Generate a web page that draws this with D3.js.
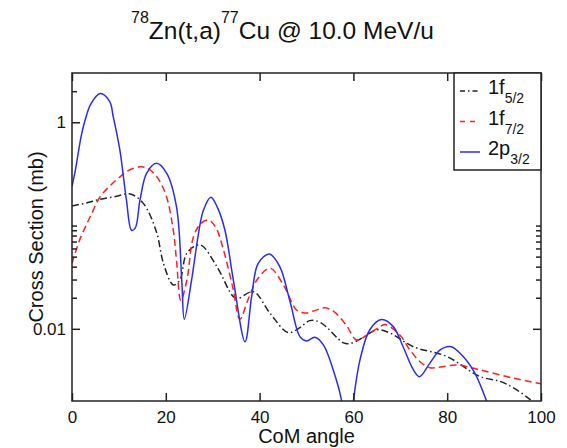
<!DOCTYPE html>
<html>
<head>
<meta charset="utf-8">
<script src="https://cdn.jsdelivr.net/npm/d3@7/dist/d3.min.js"></script>
<style>
  html, body { margin: 0; padding: 0; background: #fff; }
  svg { display: block; font-family: "Liberation Sans", Arial, Helvetica, sans-serif; }
</style>
</head>
<body>
<svg id="chart" width="567" height="448"></svg>
<script>
// Transfer cross sections vs centre-of-mass angle
const angles_f52 = [0, 3, 6, 9, 12.4, 15.2, 18, 19.5, 21.6, 23, 24.5, 27.3, 30.9, 34.4, 35.5, 38.7, 42.2, 46.1, 48.5, 50.7, 53, 57.9, 59.3, 62, 65, 67.8, 72.8, 79.9, 87, 91.3, 94, 97.7, 100];
const sigma_f52  = [0.155, 0.165, 0.18, 0.19, 0.202, 0.164, 0.087, 0.043, 0.0266, 0.0297, 0.054, 0.065, 0.04, 0.0205, 0.0198, 0.0229, 0.0142, 0.0092, 0.0102, 0.012, 0.0115, 0.0073, 0.0072, 0.0082, 0.0098, 0.0091, 0.0067, 0.0054, 0.00345, 0.0031, 0.0027, 0.00206, 0.0016];

const angles_f72 = [0, 1, 2, 3, 4, 6, 8, 10, 12, 14.5, 16, 18, 20, 21.6, 22.3, 23.2, 24.5, 25.9, 27.5, 29.1, 30.7, 32.3, 34.3, 35.8, 37.5, 39.5, 42.2, 45, 47.9, 49.7, 51.8, 53.9, 56, 58.5, 60.7, 63, 65.7, 66.8, 69.9, 72, 74.2, 76.3, 79, 82, 87, 94.1, 100];
const sigma_f72  = [0.043, 0.06, 0.08, 0.1, 0.125, 0.19, 0.24, 0.29, 0.34, 0.37, 0.36, 0.3, 0.2, 0.09, 0.045, 0.0188, 0.0297, 0.078, 0.105, 0.113, 0.095, 0.058, 0.025, 0.0124, 0.019, 0.03, 0.0386, 0.027, 0.0152, 0.0142, 0.015, 0.016, 0.0145, 0.0108, 0.0078, 0.0088, 0.0105, 0.011, 0.0087, 0.0063, 0.0048, 0.0042, 0.0043, 0.00447, 0.004, 0.00333, 0.00293];

const angles_p32 = [0, 0.7, 2, 2.8, 4, 6, 8, 8.8, 10.2, 11.6, 12.7, 13.5, 14.5, 15.9, 18, 20.2, 22.3, 23.4, 23.95, 25.5, 26.9, 28, 29.6, 31, 32.6, 34.4, 36.9, 38.3, 39.7, 42.1, 44.3, 46.5, 48.6, 50, 51.8, 53.6, 55.7, 57.5, 58.8, 60, 61.4, 63.5, 66, 68.5, 70.6, 72.8, 74.1, 76.3, 78.5, 80.7, 83.4, 85.9, 88.4, 90];
const sigma_p32  = [0.24, 0.34, 0.75, 1.05, 1.5, 1.9, 1.6, 1.13, 0.54, 0.177, 0.09, 0.095, 0.177, 0.32, 0.4, 0.32, 0.15, 0.0297, 0.0124, 0.0297, 0.08, 0.14, 0.188, 0.15, 0.0906, 0.0297, 0.0075, 0.0205, 0.043, 0.053, 0.04, 0.0183, 0.0084, 0.00764, 0.0083, 0.007, 0.004, 0.002, 0.0006, 0.002, 0.005, 0.0098, 0.0123, 0.0105, 0.0067, 0.004, 0.00344, 0.00465, 0.00625, 0.00673, 0.0054, 0.00372, 0.002, 0.0013];

const seriesNames  = ["1f", "1f", "2p"];
const seriesSubs   = ["5/2", "7/2", "3/2"];
const xTicks = [0, 20, 40, 60, 80, 100];
const yMajor = [1, 0.01];
const yMajorLabels = ["1", "0.01"];
const yMinor = [2, 0.1, 0.09, 0.08, 0.07, 0.06, 0.05, 0.04, 0.03, 0.02];

const svg = d3.select("#chart");
const L = 72, R = 541, T = 73, B = 401;

const x = d3.scaleLinear().domain([0, 100]).range([L, R]);
const y = d3.scaleLog().domain([0.002, 3]).range([B, T]);

const series = [
  { xs: angles_f52, ys: sigma_f52, color: "#222", dash: "7,3,1.5,3", sub: seriesSubs[0], name: seriesNames[0] },
  { xs: angles_f72, ys: sigma_f72, color: "#ff2020", dash: "7,4", sub: seriesSubs[1], name: seriesNames[1] },
  { xs: angles_p32, ys: sigma_p32, color: "#2a2aff", dash: null, sub: seriesSubs[2], name: seriesNames[2] }
];

svg.append("defs").append("clipPath").attr("id", "plotclip")
  .append("rect").attr("x", L).attr("y", T).attr("width", R - L).attr("height", B - T);

const line = d3.line()
  .x(d => x(d[0]))
  .y(d => y(d[1]))
  .curve(d3.curveCatmullRom.alpha(0.5));

const curves = svg.append("g").attr("clip-path", "url(#plotclip)");
series.forEach(s => {
  curves.append("path")
    .datum(s.xs.map((a, i) => [a, s.ys[i]]))
    .attr("d", line)
    .attr("fill", "none")
    .attr("stroke", s.color)
    .attr("stroke-width", 1.5)
    .attr("stroke-dasharray", s.dash);
});

// Axes: inward ticks on all four sides
const axisColor = "#222";
const bottomAxis = d3.axisBottom(x).tickValues(xTicks).tickSize(-8).tickPadding(10);
const gb = svg.append("g").attr("transform", `translate(0,${B})`).call(bottomAxis);
gb.selectAll("text").attr("font-size", 17).attr("fill", "#111");

const topAxis = d3.axisTop(x).tickValues(xTicks).tickSize(-8).tickFormat("");
svg.append("g").attr("transform", `translate(0,${T})`).call(topAxis);

const leftAxis = d3.axisLeft(y).tickValues(yMajor).tickSize(-8).tickPadding(6)
  .tickFormat((d, i) => yMajorLabels[i]);
const gl = svg.append("g").attr("transform", `translate(${L},0)`).call(leftAxis);
gl.selectAll("text").attr("font-size", 17).attr("fill", "#111");
svg.append("g").attr("transform", `translate(${L},0)`)
  .call(d3.axisLeft(y).tickValues(yMinor).tickSize(-5).tickFormat(""));

svg.append("g").attr("transform", `translate(${R},0)`)
  .call(d3.axisRight(y).tickValues(yMajor).tickSize(-8).tickFormat(""));
svg.append("g").attr("transform", `translate(${R},0)`)
  .call(d3.axisRight(y).tickValues(yMinor).tickSize(-5).tickFormat(""));

svg.selectAll(".domain").remove();
svg.selectAll(".tick line").attr("stroke", axisColor).attr("stroke-width", 1.5);

svg.append("rect").attr("x", L).attr("y", T).attr("width", R - L).attr("height", B - T)
  .attr("fill", "none").attr("stroke", axisColor).attr("stroke-width", 1.5);

// Axis titles
svg.append("text").attr("x", (L + R) / 2).attr("y", 443).attr("text-anchor", "middle")
  .attr("font-size", 20).attr("fill", "#111").text("CoM angle");
svg.append("text").attr("transform", `translate(43,${(T + B) / 2}) rotate(-90)`)
  .attr("text-anchor", "middle").attr("font-size", 20).attr("fill", "#111").text("Cross Section (mb)");

// Title with mass-number superscripts
const title = svg.append("text").attr("x", 131).attr("y", 39).attr("fill", "#111").attr("font-size", 24.5);
title.append("tspan").attr("font-size", 16).attr("dy", -16).text("78");
title.append("tspan").attr("dy", 16).text("Zn(t,a)");
title.append("tspan").attr("font-size", 16).attr("dy", -16).text("77");
title.append("tspan").attr("dy", 16).text("Cu @ 10.0 MeV/u");

// Legend
const lg = svg.append("g");
lg.append("rect").attr("x", 454).attr("y", T).attr("width", R - 454).attr("height", 97)
  .attr("fill", "#fff").attr("stroke", axisColor).attr("stroke-width", 1.5);
const rowY = [91, 121.5, 152];
series.forEach((s, i) => {
  lg.append("line").attr("x1", 460).attr("x2", 480).attr("y1", rowY[i]).attr("y2", rowY[i])
    .attr("stroke", s.color).attr("stroke-width", 1.5)
    .attr("stroke-dasharray", s.dash ? (i === 0 ? "5,3,1.5,3" : "5,5") : null);
  const t = lg.append("text").attr("x", 488).attr("y", rowY[i] + 3).attr("font-size", 20).attr("fill", "#111");
  t.append("tspan").text(s.name);
  t.append("tspan").attr("font-size", 14).attr("dy", 9).text(s.sub);
});
</script>
</body>
</html>
